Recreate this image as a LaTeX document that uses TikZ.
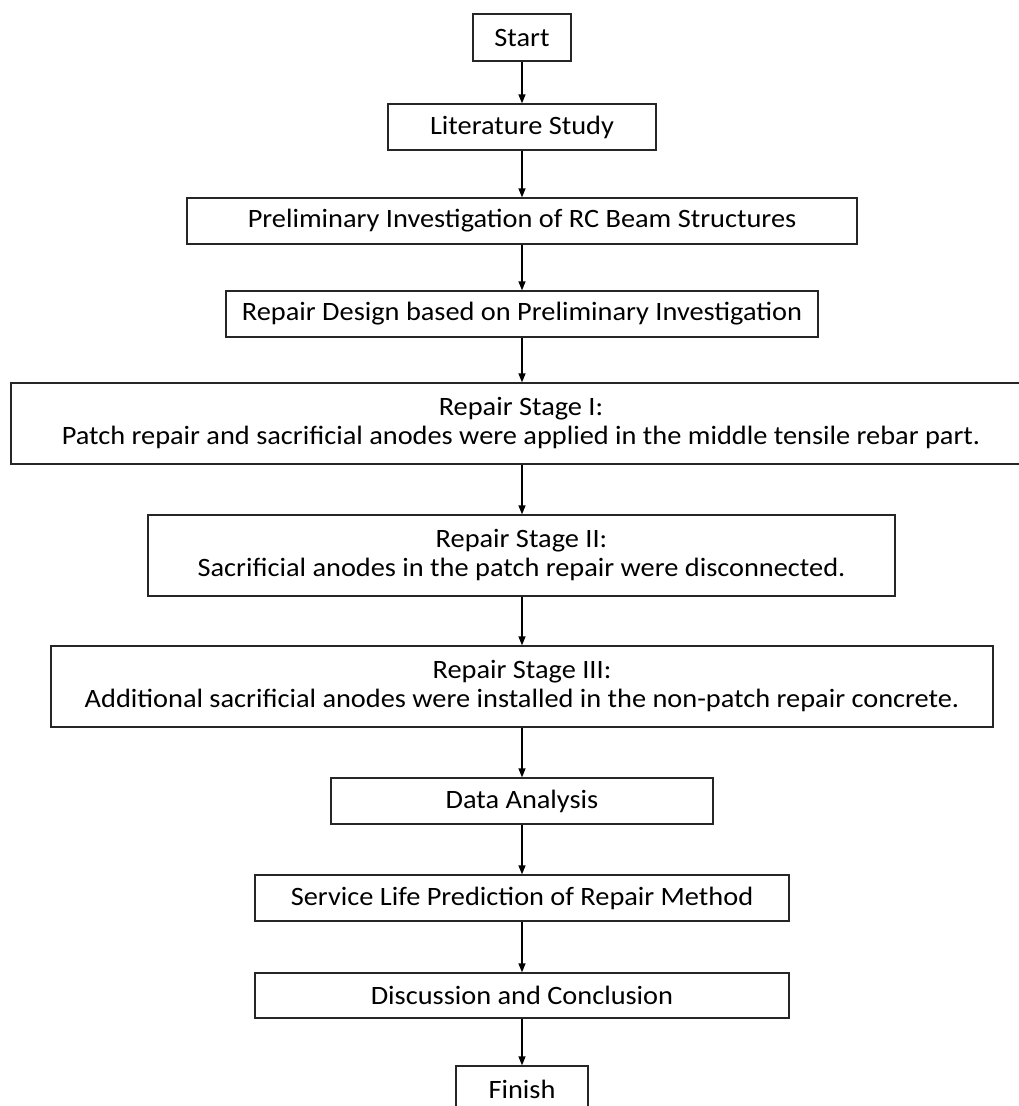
\documentclass[tikz,border=0pt]{standalone}
\usepackage{fontspec}
\setmainfont[FakeStretch=1.07]{Carlito}
\usetikzlibrary{arrows.meta}
\begin{document}
\begin{tikzpicture}[x=1pt,y=-1pt,
  box/.style={draw=black!85,line width=1.3pt,rectangle,inner sep=0pt,align=center,
    font=\fontsize{26.5}{29}\selectfont,text=black},
  arr/.style={draw=black,line width=1.3pt,-{Triangle[length=9pt,width=7pt]}}]
\useasboundingbox (0,0) rectangle (1019,1106);
\node[box,minimum width=98pt,minimum height=47pt] (start) at (522,37.5) {Start};
\node[box,minimum width=268pt,minimum height=46pt] (lit) at (522,127) {Literature Study};
\node[box,minimum width=670pt,minimum height=46pt] (prelim) at (522,221) {Preliminary Investigation of RC Beam Structures};
\node[box,minimum width=592pt,minimum height=46pt] (design) at (522,314) {Repair Design based on Preliminary Investigation};
\node[box,minimum width=1020pt,minimum height=81pt] (s1) at (521,423.5) {Repair Stage I:\\Patch repair and sacrificial anodes were applied in the middle tensile rebar part.};
\node[box,minimum width=747pt,minimum height=81pt] (s2) at (521.5,555.5) {Repair Stage II:\\Sacrificial anodes in the patch repair were disconnected.};
\node[box,minimum width=942pt,minimum height=81pt] (s3) at (522,686.5) {Repair Stage III:\\Additional sacrificial anodes were installed in the non-patch repair concrete.};
\node[box,minimum width=382pt,minimum height=46pt] (data) at (522,801) {Data Analysis};
\node[box,minimum width=534pt,minimum height=46pt] (service) at (522,898) {Service Life Prediction of Repair Method};
\node[box,minimum width=534pt,minimum height=45pt] (disc) at (522,995.5) {Discussion and Conclusion};
\node[box,minimum width=132pt,minimum height=46pt] (finish) at (522,1089) {Finish};
\draw[arr] (start) -- (lit);
\draw[arr] (lit) -- (prelim);
\draw[arr] (prelim) -- (design);
\draw[arr] (design) -- (design|-s1.north);
\draw[arr] (design|-s1.south) -- (design|-s2.north);
\draw[arr] (design|-s2.south) -- (s3);
\draw[arr] (s3) -- (data);
\draw[arr] (data) -- (service);
\draw[arr] (service) -- (disc);
\draw[arr] (disc) -- (finish);
\end{tikzpicture}
\end{document}
